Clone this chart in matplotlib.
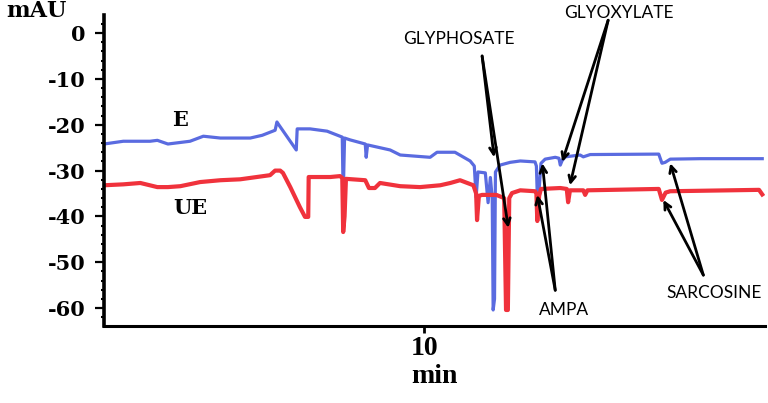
import matplotlib.pyplot as plt
from matplotlib.ticker import MultipleLocator

# electropherogram traces, time in min, signal in mAU
blue_t = [3.04, 3.46, 4.04, 4.20, 4.43, 4.91, 5.20, 5.57, 6.22, 6.48,
          6.76, 6.80, 6.84, 7.22, 7.24, 7.52, 7.89, 8.17, 8.22, 8.24,
          8.27, 8.39, 8.72, 8.74, 8.77, 9.26, 9.48, 10.13, 10.28, 10.67,
          11.00, 11.09, 11.13, 11.17, 11.33, 11.39, 11.44, 11.48, 11.50, 11.53,
          11.55, 11.65, 11.87, 12.09, 12.41, 12.44, 12.46, 12.50, 12.54, 12.63,
          12.85, 12.93, 12.96, 13.00, 13.07, 13.39, 13.46, 13.52, 13.61, 15.10,
          15.17, 15.24, 15.35, 16.00, 17.35]
blue_v = [-24.2, -23.6, -23.6, -23.4, -24.2, -23.6, -22.5, -22.9, -22.9, -22.3,
          -21.2, -19.4, -20.0, -25.5, -20.9, -20.9, -21.4, -22.5, -22.7, -35.8,
          -22.9, -23.3, -24.2, -27.1, -24.4, -25.5, -26.6, -27.1, -26.0, -26.0,
          -27.9, -29.0, -35.8, -30.3, -30.5, -37.0, -31.5, -36.0, -60.4, -58.0,
          -30.3, -28.8, -28.2, -27.9, -28.1, -29.0, -35.5, -34.0, -28.4, -27.5,
          -27.1, -27.3, -28.8, -27.8, -27.0, -26.6, -27.0, -26.8, -26.5, -26.4,
          -28.4, -28.2, -27.5, -27.4, -27.4]

red_t = [3.04, 3.46, 3.83, 4.20, 4.43, 4.70, 5.13, 5.57, 6.00, 6.65,
         6.76, 6.87, 6.93, 7.09, 7.30, 7.41, 7.48, 7.49, 7.96, 8.17,
         8.22, 8.24, 8.27, 8.30, 8.72, 8.80, 8.93, 9.04, 9.48, 9.91,
         10.35, 10.57, 10.78, 11.07, 11.13, 11.15, 11.19, 11.26, 11.57, 11.74,
         11.78, 11.82, 11.85, 11.91, 12.09, 12.41, 12.44, 12.46, 12.50, 12.54,
         12.96, 13.10, 13.13, 13.17, 13.46, 13.50, 13.55, 15.10, 15.17, 15.25,
         15.35, 16.00, 17.28, 17.35]
red_v = [-33.2, -33.0, -32.7, -33.6, -33.6, -33.4, -32.5, -32.1, -31.9, -31.0,
         -30.0, -30.0, -30.5, -33.6, -38.0, -40.1, -40.1, -31.4, -31.4, -31.2,
         -31.6, -43.4, -40.0, -31.8, -32.1, -33.8, -33.8, -32.7, -33.4, -33.6,
         -33.2, -32.7, -32.1, -33.2, -35.0, -40.8, -35.5, -35.3, -35.3, -36.0,
         -60.4, -60.4, -36.0, -34.9, -34.3, -34.5, -35.0, -41.0, -35.5, -34.0,
         -33.8, -34.0, -36.9, -34.3, -34.3, -35.3, -34.3, -34.0, -36.4, -34.8,
         -34.5, -34.4, -34.2, -35.2]

yticks = [0, -10, -20, -30, -40, -50, -60]
ytick_labels = ['0', '-10', '-20', '-30', '-40', '-50', '-60']
xticks = [10]
xtick_labels = ['10']

# peak labels: name, text position, arrow start, arrow targets
compounds = ['GLYPHOSATE', 'GLYOXYLATE', 'AMPA', 'SARCOSINE']
label_pos = [(10.76, -1.3), (14.24, 4.4), (13.04, -60.4), (16.30, -56.7)]
arrow_from = [(11.26, -5.0), (14.0, 2.8), (12.85, -56.1), (16.07, -52.8)]
arrow_to = [[(11.52, -27.1), (11.83, -42.5)],
            [(13.0, -28.1), (13.17, -33.2)],
            [(12.57, -28.4), (12.46, -35.3)],
            [(15.35, -28.4), (15.20, -36.4)]]

serif = 'DejaVu Serif'
times = 'Liberation Serif'

fig = plt.figure(figsize=(7.68, 4.03), dpi=100)
ax = fig.add_axes([0.1354, 0.191, 0.8607, 0.7717])

ax.plot(blue_t, blue_v, color='#5a6be0', lw=2.3, solid_joinstyle='round')
ax.plot(red_t, red_v, color='#f0323c', lw=3.0, solid_joinstyle='round')

ax.set_xlim(3.04, 17.41)
ax.set_ylim(-63.9, 3.93)

for s in ['top', 'right']:
    ax.spines[s].set_visible(False)
ax.spines['left'].set_linewidth(2.6)
ax.spines['bottom'].set_linewidth(2.2)

ax.set_yticks(yticks)
ax.set_yticklabels(ytick_labels, fontfamily=serif, fontweight='bold', fontsize=15)
ax.yaxis.set_minor_locator(MultipleLocator(2))
ax.tick_params(axis='y', which='major', length=6.5, width=1.6, pad=7)
ax.tick_params(axis='y', which='minor', length=2.5, width=1.5)

ax.set_xticks(xticks)
ax.set_xticklabels(xtick_labels, fontfamily=times, fontweight='bold', fontsize=20)
ax.tick_params(axis='x', which='major', length=5, width=2, pad=2)

ax.set_xlabel('min', fontfamily=times, fontweight='bold', fontsize=20, labelpad=2)
fig.text(0.048, 0.972, 'mAU', fontfamily=serif, fontweight='bold', fontsize=16,
         ha='center', va='center')

ax.text(4.70, -19.0, 'E', fontfamily=serif, fontweight='bold', fontsize=15,
        ha='center', va='center')
ax.text(4.91, -38.2, 'UE', fontfamily=serif, fontweight='bold', fontsize=15,
        ha='center', va='center')

for name, pos, start, targets in zip(compounds, label_pos, arrow_from, arrow_to):
    ax.text(pos[0], pos[1], name, fontfamily='Lato', fontsize=12.5,
            ha='center', va='center', clip_on=False)
    for tgt in targets:
        ax.annotate('', xy=tgt, xytext=start,
                    arrowprops=dict(arrowstyle='->', lw=2.0, color='black',
                                    mutation_scale=12, shrinkA=0, shrinkB=0))

plt.savefig('out.png', dpi=100)
